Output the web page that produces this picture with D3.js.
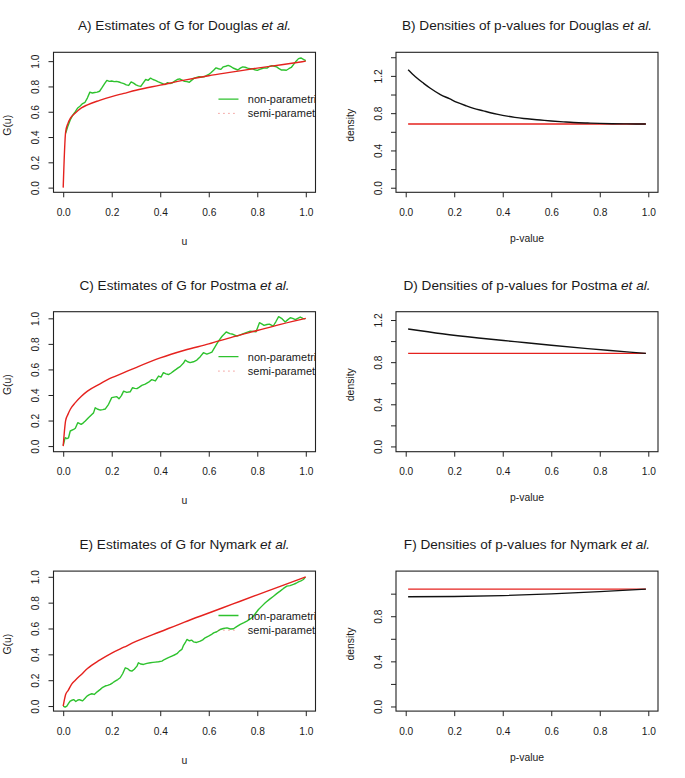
<!DOCTYPE html>
<meta charset="utf-8">
<style>
body { margin: 0; background: #fff; }
svg text { font-family: "Liberation Sans", Arial, Helvetica, sans-serif; fill: #1a1a1a; }
.tick line { stroke: #222; }
.domain { display: none; }
</style>
<svg width="685" height="778"></svg>
<script src="https://d3js.org/d3.v7.min.js"></script>
<script>

// ---------- data ----------

// non-parametric estimate of G, [u, G(u)]
var nonparDouglas = [[0.01,0.43],[0.02,0.49],[0.03,0.54],[0.04,0.575],[0.05,0.6],[0.06,0.63],[0.07,0.645],[0.08,0.665],[0.09,0.675],[0.10,0.71],
  [0.11,0.755],[0.12,0.748],[0.13,0.752],[0.14,0.755],[0.15,0.762],[0.16,0.79],[0.17,0.82],[0.18,0.848],[0.19,0.84],[0.20,0.843],
  [0.21,0.838],[0.22,0.84],[0.23,0.835],[0.24,0.828],[0.25,0.822],[0.26,0.812],[0.27,0.808],[0.28,0.836],[0.29,0.826],[0.30,0.812],
  [0.31,0.805],[0.32,0.80],[0.33,0.828],[0.34,0.855],[0.35,0.848],[0.36,0.866],[0.37,0.855],[0.38,0.848],[0.39,0.838],[0.40,0.83],
  [0.41,0.822],[0.42,0.815],[0.43,0.83],[0.44,0.822],[0.45,0.828],[0.46,0.842],[0.47,0.855],[0.48,0.86],[0.49,0.85],[0.50,0.84],
  [0.51,0.838],[0.52,0.833],[0.53,0.85],[0.54,0.866],[0.55,0.872],[0.56,0.878],[0.57,0.875],[0.58,0.876],[0.59,0.885],[0.60,0.895],
  [0.61,0.91],[0.62,0.928],[0.63,0.947],[0.64,0.94],[0.65,0.935],[0.66,0.955],[0.67,0.96],[0.68,0.966],[0.69,0.958],[0.70,0.946],
  [0.71,0.938],[0.72,0.93],[0.73,0.945],[0.74,0.955],[0.75,0.952],[0.76,0.945],[0.77,0.94],[0.78,0.94],[0.79,0.932],[0.80,0.927],
  [0.81,0.935],[0.82,0.942],[0.83,0.947],[0.84,0.945],[0.85,0.958],[0.86,0.965],[0.87,0.96],[0.88,0.955],[0.89,0.94],[0.90,0.93],
  [0.91,0.93],[0.92,0.928],[0.93,0.94],[0.94,0.95],[0.95,0.975],[0.96,1.0],[0.97,1.02],[0.98,1.025],[0.99,1.015],[1.00,1.005]]

var nonparPostma = [[0.0,0.005],[0.008,0.066],[0.015,0.058],[0.022,0.065],[0.029,0.118],[0.043,0.13],[0.05,0.14],[0.06,0.183],[0.074,0.17],[0.083,0.182],
  [0.091,0.196],[0.104,0.222],[0.118,0.248],[0.125,0.26],[0.132,0.3],[0.143,0.288],[0.153,0.282],[0.163,0.285],[0.173,0.29],[0.187,0.327],
  [0.20,0.379],[0.21,0.383],[0.221,0.387],[0.23,0.37],[0.24,0.395],[0.249,0.43],[0.262,0.42],[0.276,0.425],[0.286,0.457],[0.295,0.452],
  [0.304,0.45],[0.314,0.462],[0.324,0.475],[0.338,0.485],[0.352,0.5],[0.365,0.52],[0.38,0.51],[0.393,0.548],[0.403,0.54],[0.413,0.575],
  [0.424,0.565],[0.434,0.56],[0.445,0.572],[0.455,0.587],[0.465,0.6],[0.475,0.614],[0.482,0.622],[0.496,0.65],[0.503,0.673],[0.513,0.66],
  [0.523,0.653],[0.537,0.66],[0.551,0.673],[0.565,0.7],[0.578,0.731],[0.592,0.72],[0.603,0.728],[0.613,0.736],[0.627,0.78],[0.64,0.822],
  [0.655,0.86],[0.672,0.893],[0.687,0.88],[0.70,0.875],[0.716,0.861],[0.73,0.87],[0.743,0.88],[0.757,0.89],[0.771,0.9],[0.785,0.897],
  [0.795,0.895],[0.809,0.966],[0.82,0.955],[0.828,0.945],[0.84,0.952],[0.85,0.955],[0.866,0.94],[0.877,0.975],[0.888,1.013],[0.9,1.0],
  [0.915,0.971],[0.925,0.988],[0.936,1.005],[0.946,1.0],[0.957,0.99],[0.967,1.0],[0.977,1.01],[0.988,1.0],[0.998,0.997]]

var nonparNymark = [[0.0,0.0],[0.008,-0.008],[0.015,0.0],[0.022,0.02],[0.029,0.039],[0.036,0.045],[0.043,0.05],[0.052,0.035],[0.059,0.045],[0.066,0.05],
  [0.073,0.045],[0.08,0.04],[0.09,0.06],[0.098,0.077],[0.108,0.088],[0.118,0.095],[0.128,0.09],[0.14,0.11],[0.153,0.129],[0.163,0.145],
  [0.173,0.155],[0.183,0.16],[0.194,0.168],[0.204,0.18],[0.214,0.193],[0.225,0.205],[0.235,0.219],[0.245,0.25],[0.256,0.296],[0.265,0.29],
  [0.274,0.275],[0.283,0.27],[0.293,0.285],[0.304,0.309],[0.31,0.335],[0.32,0.325],[0.331,0.322],[0.345,0.33],[0.359,0.335],[0.37,0.338],
  [0.38,0.34],[0.393,0.343],[0.407,0.348],[0.417,0.36],[0.427,0.369],[0.438,0.378],[0.448,0.387],[0.458,0.395],[0.469,0.405],[0.479,0.425],
  [0.489,0.438],[0.496,0.47],[0.503,0.49],[0.51,0.515],[0.52,0.505],[0.53,0.51],[0.537,0.497],[0.55,0.492],[0.565,0.502],[0.575,0.512],
  [0.585,0.528],[0.599,0.541],[0.61,0.552],[0.62,0.566],[0.633,0.575],[0.647,0.592],[0.66,0.6],[0.675,0.605],[0.69,0.596],[0.702,0.598],
  [0.715,0.615],[0.73,0.632],[0.745,0.645],[0.757,0.657],[0.768,0.67],[0.778,0.683],[0.79,0.71],[0.805,0.747],[0.82,0.775],[0.833,0.799],
  [0.85,0.825],[0.867,0.85],[0.88,0.87],[0.894,0.889],[0.908,0.91],[0.922,0.928],[0.935,0.932],[0.949,0.941],[0.96,0.95],[0.97,0.961],
  [0.98,0.968],[0.99,0.979],[0.998,0.997]]

// semi-parametric estimate of G, [u, G(u)]
var semiDouglas = [[0,0],[0.01,0.44],[0.02,0.51],[0.03,0.55],[0.05,0.59],[0.075,0.63],[0.1,0.655],[0.15,0.69],[0.2,0.72],
  [0.25,0.745],[0.3,0.77],[0.4,0.81],[0.5,0.85],[0.6,0.885],[0.7,0.915],[0.8,0.945],[0.9,0.972],[1.0,1.0]]
var semiPostma = [[0,0],[0.01,0.2],[0.02,0.25],[0.03,0.29],[0.05,0.34],[0.075,0.39],[0.1,0.43],[0.15,0.485],[0.2,0.535],
  [0.25,0.575],[0.3,0.615],[0.4,0.69],[0.5,0.75],[0.6,0.8],[0.7,0.855],[0.8,0.905],[0.9,0.955],[1.0,1.0]]
var semiNymark = [[0,0],[0.005,0.05],[0.01,0.09],[0.02,0.12],[0.035,0.17],[0.05,0.2],[0.075,0.245],[0.1,0.29],[0.15,0.355],
  [0.2,0.41],[0.25,0.455],[0.3,0.5],[0.4,0.575],[0.5,0.65],[0.6,0.72],[0.7,0.79],[0.8,0.86],[0.9,0.93],[1.0,1.0]]

// densities of p-values, [p, density]
var densDouglas = [[0.01,1.265],[0.04,1.19],[0.074,1.12],[0.1,1.07],[0.143,1.0],[0.18,0.955],[0.212,0.915],[0.25,0.878],[0.28,0.852],
  [0.32,0.825],[0.349,0.805],[0.38,0.787],[0.418,0.768],[0.45,0.755],[0.486,0.743],[0.52,0.734],[0.555,0.726],[0.6,0.716],
  [0.65,0.707],[0.692,0.70],[0.75,0.694],[0.8,0.69],[0.85,0.687],[0.9,0.685],[0.95,0.684],[0.99,0.683]]
var densPostma = [[0.01,1.115],[0.15,1.07],[0.3,1.03],[0.45,0.995],[0.6,0.96],[0.75,0.928],[0.9,0.9],[0.99,0.883]]
var densNymark = [[0.01,0.972],[0.2,0.975],[0.4,0.983],[0.6,0.998],[0.8,1.018],[0.99,1.04]]

// uniform reference level, [p, density]
var flatDouglas = [[0.01,0.683],[0.99,0.683]]
var flatPostma = [[0.01,0.883],[0.99,0.883]]
var flatNymark = [[0.01,1.04],[0.99,1.04]]

var studies = ["Douglas", "Postma", "Nymark"]
var xTicks = [0, 0.2, 0.4, 0.6, 0.8, 1.0]
var gTicks = [0, 0.2, 0.4, 0.6, 0.8, 1.0]
var densTicks = [[0, 0.2, 0.4, 0.6, 0.8, 1.0, 1.2, 1.4], [0, 0.2, 0.4, 0.6, 0.8, 1.0, 1.2], [0, 0.2, 0.4, 0.6, 0.8, 1.0]]
var densLabels = [[0, 0.4, 0.8, 1.2], [0, 0.4, 0.8, 1.2], [0, 0.4, 0.8]]
var legendLabels = ["non-parametric", "semi-parametric"]

// ---------- layout ----------
var svg = d3.select("svg")
var colW = 342.5, rowH = 259.4
var boxW = 262, boxH = 140
var green = "#2ec22e", red = "#e5221e"

var gYDomains = [[-0.037, 1.07], [-0.044, 1.052], [-0.039, 1.044]]
var dYDomains = [[-0.049, 1.453], [-0.05, 1.279], [-0.041, 1.2]]
var nonpars = [nonparDouglas, nonparPostma, nonparNymark]
var semis = [semiDouglas, semiPostma, semiNymark]
var denss = [densDouglas, densPostma, densNymark]
var flats = [flatDouglas, flatPostma, flatNymark]

var fmt = d3.format(".1f")

function panel(row, col, letter, title, study, xlab, ylab, yDomain, yTicks, yLabels) {
  var left = col * colW + 53.5
  var top = row * rowH + 52.3
  var g = svg.append("g").attr("transform", "translate(" + left + "," + top + ")")

  var x = d3.scaleLinear().domain([-0.04, 1.04]).range([0, boxW])
  var y = d3.scaleLinear().domain(yDomain).range([boxH, 0])

  // title
  var t = g.append("text")
    .attr("x", boxW / 2).attr("y", -22)
    .attr("text-anchor", "middle")
    .style("font-size", "13.6px")
  t.append("tspan").text(letter + ") " + title + " for " + study + " ")
  t.append("tspan").style("font-style", "italic").text("et al.")

  // axes
  var xAxis = g.append("g").attr("transform", "translate(0," + boxH + ")")
    .call(d3.axisBottom(x).tickValues(xTicks).tickSize(5).tickFormat(fmt))
  xAxis.selectAll("text").attr("y", 23.7).attr("dy", null).style("font-size", "10.2px")

  var yAxis = g.append("g")
    .call(d3.axisLeft(y).tickValues(yTicks).tickSize(5)
      .tickFormat(function (d) { return yLabels.indexOf(d) > -1 ? fmt(d) : "" }))
  yAxis.selectAll("text")
    .attr("x", null).attr("dy", null)
    .attr("text-anchor", "middle")
    .attr("transform", "translate(-14.5,0) rotate(-90)")
    .style("font-size", "10.2px")

  // axis titles
  g.append("text").attr("x", boxW / 2).attr("y", boxH + (xlab === "u" ? 52.5 : 49.5))
    .attr("text-anchor", "middle").style("font-size", "10.4px").text(xlab)
  g.append("text")
    .attr("transform", "translate(-42.5," + (boxH / 2 + 3) + ") rotate(-90)")
    .attr("text-anchor", "middle").style("font-size", "10.4px").text(ylab)

  // box
  g.append("rect").attr("width", boxW).attr("height", boxH)
    .attr("fill", "none").attr("stroke", "#222").attr("stroke-width", 1.1)

  var clipId = "clip" + letter
  g.append("clipPath").attr("id", clipId)
    .append("rect").attr("width", boxW).attr("height", boxH)

  var line = d3.line()
    .x(function (d) { return x(d[0]) })
    .y(function (d) { return y(d[1]) })

  return { g: g, x: x, y: y, line: line, clipId: clipId }
}

var letters = [["A", "B"], ["C", "D"], ["E", "F"]]

studies.forEach(function (study, i) {
  // left: estimates of G
  var p = panel(i, 0, letters[i][0], "Estimates of G", study, "u", "G(u)", gYDomains[i], gTicks, gTicks)
  p.g.append("path").datum(nonpars[i]).attr("d", p.line)
    .attr("fill", "none").attr("stroke", green).attr("stroke-width", 1.4).attr("stroke-linejoin", "round")
  p.g.append("path").datum(semis[i]).attr("d", p.line.curve(d3.curveMonotoneX))
    .attr("fill", "none").attr("stroke", red).attr("stroke-width", 1.4)

  // legend (no box, clipped to plot region like R)
  var leg = p.g.append("g").attr("clip-path", "url(#" + p.clipId + ")")
  var lx0 = p.x(0.64), lx1 = p.x(0.7225), tx = p.x(0.761)
  var ly = [p.y(0.70), p.y(0.587)]
  leg.append("line").attr("x1", lx0).attr("x2", lx1).attr("y1", ly[0]).attr("y2", ly[0])
    .attr("stroke", green).attr("stroke-width", 1.4)
  leg.append("line").attr("x1", lx0).attr("x2", lx1 - 3).attr("y1", ly[1]).attr("y2", ly[1])
    .attr("stroke", red).attr("stroke-width", 1).attr("stroke-dasharray", "1,4").attr("opacity", 0.7)
  legendLabels.forEach(function (lab, k) {
    leg.append("text").attr("x", tx).attr("y", ly[k]).attr("dy", "0.36em")
      .style("font-size", "11px").text(lab)
  })

  // right: densities of p-values
  var q = panel(i, 1, letters[i][1], "Densities of p-values", study, "p-value", "density", dYDomains[i], densTicks[i], densLabels[i])
  q.g.append("path").datum(flats[i]).attr("d", q.line)
    .attr("fill", "none").attr("stroke", red).attr("stroke-width", 1.4)
  q.g.append("path").datum(denss[i]).attr("d", q.line.curve(d3.curveMonotoneX))
    .attr("fill", "none").attr("stroke", "#111").attr("stroke-width", 1.4)
})

</script>
